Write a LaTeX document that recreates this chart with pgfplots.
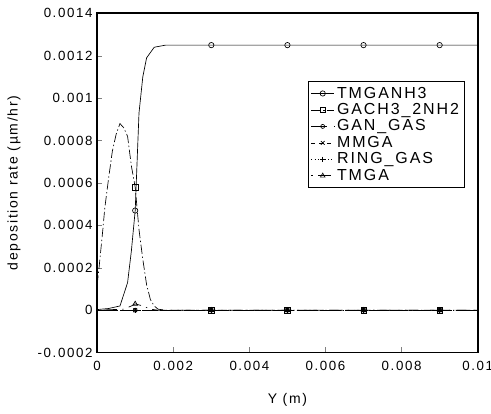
\documentclass[border=0pt]{standalone}
\usepackage{fontspec}
\setmainfont{Liberation Sans}[LetterSpace=12]
\usepackage{pgfplots}
\pgfplotsset{compat=1.18}
\usetikzlibrary{calc}

\begin{document}
\begin{tikzpicture}
\begin{axis}[
  scale only axis,
  width=286pt,height=255pt,
  xmin=0,xmax=0.01,ymin=-0.0002,ymax=0.0014,
  xtick={0,0.002,0.004,0.006,0.008,0.01},
  ytick={-0.0002,0,0.0002,0.0004,0.0006,0.0008,0.001,0.0012,0.0014},
  xticklabels={0,0.002,0.004,0.006,0.008,0.01},
  yticklabels={-0.0002,0,0.0002,0.0004,0.0006,0.0008,0.001,0.0012,0.0014},
  scaled ticks=false,
  tick align=inside,
  xtick pos=bottom,ytick pos=left,
  major tick length=4pt,
  tick label style={font=\fontsize{10}{12}\selectfont},
  xticklabel shift=3pt,
  xlabel={Y (m)},ylabel={deposition rate (µm/hr)},
  xlabel shift=10pt,ylabel shift=6pt,
  label style={font=\fontsize{10.5}{12}\selectfont},
  axis line style={line width=1.3pt},
  legend style={at={(0.966,0.80)},anchor=north east,font=\fontsize{12}{14}\selectfont,
    draw=black,line width=0.6pt,inner sep=2pt,row sep=-1.5pt},
  legend cell align=left,
  legend image post style={mark indices={2}},
  every axis plot/.append style={black,line width=0.5pt},
  mark size=2pt,
]
\addplot[mark=o,mark indices={6,12,13,14,15}] coordinates {
 (0,0.000003)(0.0003,0.000008)(0.0006,0.00002)(0.0008,0.00013)(0.0009,0.00028)
 (0.001,0.00047)(0.0011,0.00093)(0.0012,0.00110)(0.0013,0.00119)(0.0015,0.00124)
 (0.0018,0.00125)(0.003,0.00125)(0.005,0.00125)(0.007,0.00125)(0.009,0.00125)(0.01,0.00125)};
\addplot[dash pattern=on 7pt off 2pt on 1pt off 2pt,mark=square,mark options={solid},mark indices={12,20,21,22,23}] coordinates {
 (0,0.00012)(0.00005,0.0002)(0.00015,0.00038)(0.0002,0.00048)(0.0003,0.00062)(0.0004,0.00075)
 (0.0005,0.00083)(0.0006,0.00088)(0.0007,0.00086)(0.0008,0.00082)(0.0009,0.00068)(0.001,0.00058)
 (0.0011,0.00038)(0.0012,0.00024)(0.0013,0.00012)(0.0014,0.00005)(0.0015,0.00002)(0.0016,0.000005)
 (0.0018,0)(0.003,0)(0.005,0)(0.007,0)(0.009,0)(0.01,0)};
\addplot[dash pattern=on 12pt off 5pt,mark=o,mark options={solid},mark size=1.5pt,mark indices={2,3,4,5,6}] coordinates {
 (0,0)(0.001,0)(0.003,0)(0.005,0)(0.007,0)(0.009,0)(0.01,0)};
\addplot[dash pattern=on 3pt off 3pt,mark=x,mark options={solid},mark indices={2,3,4,5,6}] coordinates {
 (0,0)(0.001,0)(0.003,0)(0.005,0)(0.007,0)(0.009,0)(0.01,0)};
\addplot[dotted,mark=+,mark options={solid},mark indices={2,3,4,5,6}] coordinates {
 (0,0)(0.001,0)(0.003,0)(0.005,0)(0.007,0)(0.009,0)(0.01,0)};
\addplot[dash pattern=on 1pt off 4pt on 10pt off 4pt,mark=triangle,mark options={solid},mark indices={4,8,9,10,11}] coordinates {
 (0,0)(0.0007,0.000005)(0.0009,0.00002)(0.001,0.00003)(0.0012,0.00002)(0.0014,0.000005)
 (0.0016,0)(0.003,0)(0.005,0)(0.007,0)(0.009,0)(0.01,0)};
\legend{TMGANH3,GACH3\_2NH2,GAN\_GAS,MMGA,RING\_GAS,TMGA}
\end{axis}
\pgfresetboundingbox
\path ($(current axis.south west)+(-73pt,-46pt)$) rectangle ($(current axis.north east)+(10pt,10pt)$);
\end{tikzpicture}
\end{document}
